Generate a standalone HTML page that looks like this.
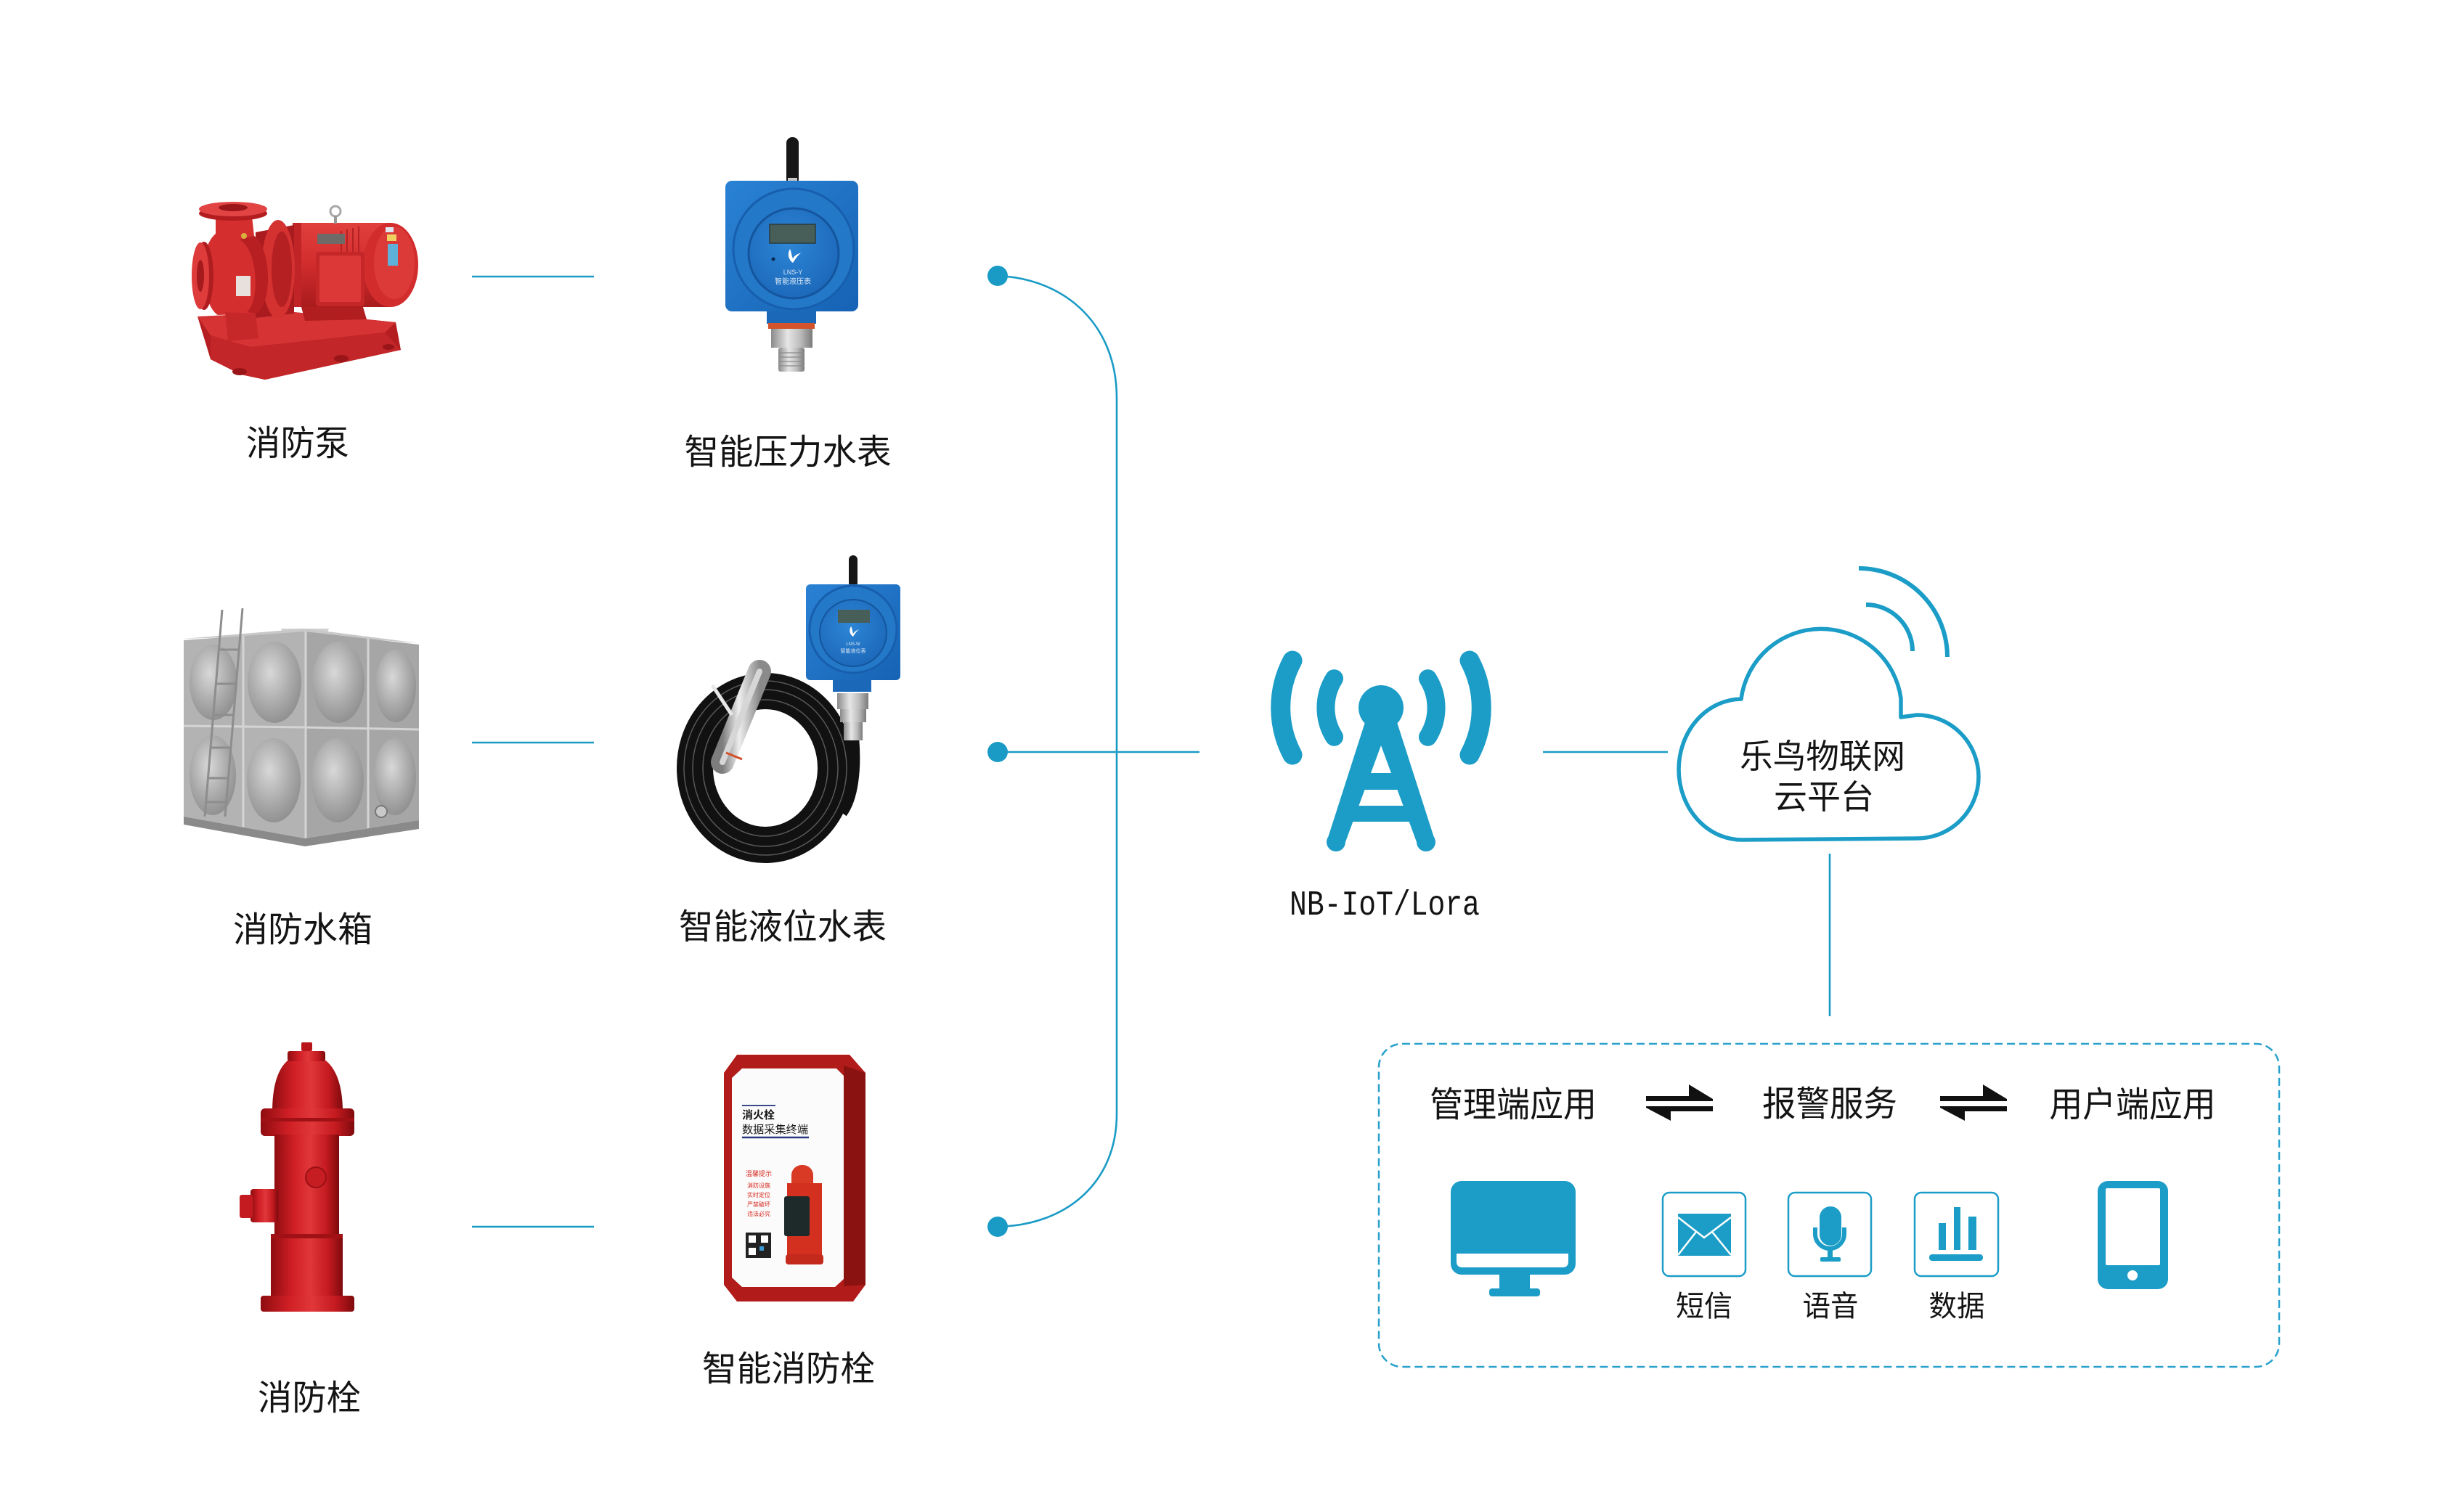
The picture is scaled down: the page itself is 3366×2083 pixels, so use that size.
<!DOCTYPE html>
<html><head><meta charset="utf-8">
<style>
html,body{margin:0;padding:0;background:#fff;}
svg{display:block;}
text{font-family:"Liberation Sans","Noto Sans CJK SC",sans-serif;fill:#141414;}
.mono{font-family:"Liberation Mono","DejaVu Sans Mono",monospace;}
</style></head><body>
<svg width="3366" height="2083" viewBox="0 0 3366 2083" xmlns="http://www.w3.org/2000/svg">
<defs>
 <linearGradient id="red" x1="0" x2="1" y1="0" y2="0">
  <stop offset="0" stop-color="#8e0c10"/><stop offset="0.3" stop-color="#cf1f25"/><stop offset="0.55" stop-color="#e0373a"/><stop offset="0.8" stop-color="#c41a20"/><stop offset="1" stop-color="#7e0a0d"/>
 </linearGradient>
 <linearGradient id="motor" x1="0" x2="0" y1="0" y2="1">
  <stop offset="0" stop-color="#e0403e"/><stop offset="0.45" stop-color="#d42e2e"/><stop offset="1" stop-color="#a91b1d"/>
 </linearGradient>
 <radialGradient id="dimple" cx="0.42" cy="0.38" r="0.7">
  <stop offset="0" stop-color="#d8d8d8"/><stop offset="0.55" stop-color="#ababab"/><stop offset="1" stop-color="#8a8a8a"/>
 </radialGradient>
 <linearGradient id="silver" x1="0" x2="1">
  <stop offset="0" stop-color="#8a8a8a"/><stop offset="0.4" stop-color="#e6e6e6"/><stop offset="0.7" stop-color="#bdbdbd"/><stop offset="1" stop-color="#7a7a7a"/>
 </linearGradient>
 <linearGradient id="blueBox" x1="0" x2="1" y1="0" y2="1">
  <stop offset="0" stop-color="#2a82d4"/><stop offset="1" stop-color="#1662b4"/>
 </linearGradient>
 <radialGradient id="blueFace" cx="0.45" cy="0.4" r="0.7">
  <stop offset="0" stop-color="#2d86d6"/><stop offset="1" stop-color="#1a64b6"/>
 </radialGradient>
 <linearGradient id="probe" x1="0" x2="1" y1="0" y2="0">
  <stop offset="0" stop-color="#7d7d7d"/><stop offset="0.45" stop-color="#eeeeee"/><stop offset="1" stop-color="#8a8a8a"/>
 </linearGradient>
</defs>

<!-- ================= CONNECTORS ================= -->
<g stroke="#1a9bc6" stroke-width="2.6" fill="none">
 <line x1="650" y1="381" x2="818" y2="381"/>
 <line x1="650" y1="1023" x2="818" y2="1023"/>
 <line x1="650" y1="1690" x2="818" y2="1690"/>
 <path d="M1374,380 C1470,384 1538,450 1538,548 L1538,1535 C1538,1628 1470,1688 1374,1690"/>
 <line x1="1374" y1="1036" x2="1652" y2="1036"/>
 <line x1="2125" y1="1036" x2="2297" y2="1036"/>
 <line x1="2520" y1="1176" x2="2520" y2="1400"/>
</g>
<g fill="#1a9bc6">
 <circle cx="1374" cy="380" r="14"/>
 <circle cx="1374" cy="1036" r="14"/>
 <circle cx="1374" cy="1690" r="14"/>
</g>

<!-- ================= PUMP ================= -->
<g>
 <!-- base block -->
 <polygon points="272,436 405,430 545,444 552,482 365,523 332,516 290,495" fill="#b51e21"/>
 <polygon points="272,436 405,430 545,444 530,458 345,478 290,462" fill="#d63434"/>
 <polygon points="290,462 345,478 530,458 552,482 365,523 332,516 290,495" fill="#c22628"/>
 <ellipse cx="330" cy="512" rx="10" ry="5" fill="#9a1518"/>
 <ellipse cx="470" cy="494" rx="10" ry="5" fill="#9a1518"/>
 <ellipse cx="535" cy="478" rx="8" ry="4" fill="#9a1518"/>
 <!-- motor -->
 <rect x="403" y="307" width="136" height="116" fill="url(#motor)"/>
 <g stroke="#b42224" stroke-width="2">
  <line x1="470" y1="318" x2="470" y2="418"/><line x1="478" y1="316" x2="478" y2="420"/><line x1="486" y1="314" x2="486" y2="420"/><line x1="494" y1="312" x2="494" y2="421"/>
 </g>
 <ellipse cx="538" cy="365" rx="38" ry="58" fill="#d22c2d"/>
 <ellipse cx="543" cy="362" rx="28" ry="50" fill="#dc3a39"/>
 <rect x="531" y="313" width="11" height="7" fill="#dfe6f0"/>
 <rect x="533" y="323" width="13" height="9" fill="#f0d060"/>
 <rect x="534" y="336" width="14" height="30" fill="#5fb0d8"/>
 <rect x="403" y="307" width="12" height="116" fill="#c02426"/>
 <polygon points="415,423 500,423 505,440 420,442" fill="#b01e20"/>
 <!-- bracket -->
 <polygon points="352,320 405,310 405,432 352,438" fill="#a91b1e"/>
 <ellipse cx="383" cy="371" rx="23" ry="68" fill="#d43131"/>
 <ellipse cx="388" cy="371" rx="14" ry="52" fill="#b52023"/>
 <!-- volute -->
 <path d="M297,298 L347,298 L350,325 C374,342 376,420 352,432 L300,434 C278,420 270,345 297,322 Z" fill="#d52e2e"/>
 <path d="M330,330 C356,345 358,415 340,430 L352,432 C376,420 374,342 350,325 Z" fill="#b71f22"/>
 <rect x="325" y="380" width="20" height="28" fill="#e8e0dc"/>
 <circle cx="336" cy="325" r="4" fill="#d9b040"/>
 <ellipse cx="321" cy="294" rx="47" ry="10" fill="#b31d20"/>
 <ellipse cx="321" cy="288" rx="47" ry="10" fill="#e24444"/>
 <ellipse cx="321" cy="286" rx="20" ry="5" fill="#9a1618"/>
 <ellipse cx="281" cy="380" rx="13" ry="47" fill="#b01d20"/>
 <ellipse cx="276" cy="380" rx="12" ry="46" fill="#de3b3b"/>
 <ellipse cx="276" cy="380" rx="5" ry="22" fill="#a51a1c"/>
 <polygon points="310,430 352,432 356,466 314,470" fill="#c62729"/>
 <!-- junction box -->
 <rect x="435" y="347" width="67" height="75" rx="4" fill="#c52628"/>
 <rect x="440" y="352" width="57" height="64" rx="3" fill="#dc3838"/>
 <rect x="437" y="322" width="38" height="14" fill="#6e6a68"/>
 <circle cx="462" cy="291" r="7" fill="none" stroke="#a8a8a8" stroke-width="3"/>
 <rect x="460" y="297" width="4" height="11" fill="#999"/>
</g>

<!-- ================= PRESSURE METER ================= -->
<g>
 <rect x="1083" y="189" width="17" height="66" rx="8" fill="#161616"/>
 <rect x="1085" y="245" width="13" height="8" fill="#c8c8c8"/>
 <rect x="999" y="249" width="183" height="180" rx="9" fill="url(#blueBox)"/>
 <circle cx="1093" cy="343" r="83" fill="#2478c8" stroke="#175fae" stroke-width="3"/>
 <circle cx="1093" cy="349" r="62" fill="url(#blueFace)" stroke="#14559e" stroke-width="3"/>
 <rect x="1060" y="309" width="63" height="26" fill="#485e58" stroke="#2a3b3a" stroke-width="1.5"/>
 <path d="M1088,343 C1084,350 1086,358 1092,362 C1096,356 1100,350 1104,348 C1098,350 1094,352 1092,356 C1090,352 1090,347 1088,343 Z" fill="#fff"/>
 <circle cx="1065" cy="357" r="2.5" fill="#0d2850"/>
 <text x="1092" y="378" font-size="9" text-anchor="middle" style="fill:#d8e6f6">LNS-Y</text>
 <text x="1092" y="391" font-size="10" text-anchor="middle" style="fill:#d8e6f6">智能液压表</text>
 <rect x="1056" y="429" width="68" height="17" fill="#1c68b8"/>
 <rect x="1058" y="445" width="64" height="8" fill="#d2532c"/>
 <rect x="1062" y="453" width="57" height="26" fill="url(#silver)"/>
 <rect x="1072" y="479" width="36" height="33" rx="3" fill="url(#silver)"/>
 <g stroke="#8a8a8a" stroke-width="1.2"><line x1="1072" y1="486" x2="1108" y2="486"/><line x1="1072" y1="492" x2="1108" y2="492"/><line x1="1072" y1="498" x2="1108" y2="498"/><line x1="1072" y1="504" x2="1108" y2="504"/></g>
</g>

<!-- ================= TANK ================= -->
<g>
 <polygon points="387,866 453,866 450,874 390,874" fill="#d0d0d0"/>
 <polygon points="253,880 420,866 577,886 420,874" fill="#c8c8c8"/>
 <polygon points="253,882 420,870 420,1155 253,1125" fill="#b3b3b3"/>
 <polygon points="420,870 577,888 577,1130 420,1155" fill="#a6a6a6"/>
 <g stroke="#d4d4d4" stroke-width="3" fill="none">
  <line x1="335" y1="876" x2="335" y2="1140"/>
  <line x1="421" y1="870" x2="421" y2="1155"/>
  <line x1="507" y1="880" x2="507" y2="1143"/>
  <polyline points="253,1000 420,1002 577,1005"/>
 </g>
 <ellipse cx="294" cy="940" rx="33" ry="52" fill="url(#dimple)"/>
 <ellipse cx="378" cy="940" rx="37" ry="56" fill="url(#dimple)"/>
 <ellipse cx="293" cy="1068" rx="32" ry="55" fill="url(#dimple)"/>
 <ellipse cx="377" cy="1075" rx="37" ry="58" fill="url(#dimple)"/>
 <ellipse cx="466" cy="940" rx="36" ry="56" fill="url(#dimple)"/>
 <ellipse cx="545" cy="945" rx="28" ry="50" fill="url(#dimple)"/>
 <ellipse cx="465" cy="1075" rx="36" ry="58" fill="url(#dimple)"/>
 <ellipse cx="544" cy="1070" rx="29" ry="53" fill="url(#dimple)"/>
 <polygon points="253,1125 420,1155 577,1130 577,1142 420,1166 253,1136" fill="#8a8a8a"/>
 <circle cx="525" cy="1118" r="8" fill="#c9c9c9" stroke="#777" stroke-width="2"/>
 <g stroke="#8d8d8d" stroke-width="3">
  <line x1="306" y1="840" x2="282" y2="1125"/>
  <line x1="334" y1="838" x2="310" y2="1125"/>
  <line x1="302" y1="895" x2="330" y2="895"/>
  <line x1="298" y1="942" x2="326" y2="942"/>
  <line x1="294" y1="985" x2="322" y2="985"/>
  <line x1="290" y1="1030" x2="318" y2="1030"/>
  <line x1="287" y1="1072" x2="315" y2="1072"/>
  <line x1="284" y1="1105" x2="312" y2="1105"/>
 </g>
</g>

<!-- ================= LEVEL METER ================= -->
<g>
 <path d="M1176,1015 C1180,1060 1175,1100 1160,1120" stroke="#111" stroke-width="14" fill="none"/>
 <ellipse cx="1054" cy="1058" rx="97" ry="106" fill="none" stroke="#111" stroke-width="50"/>
 <g fill="none" stroke="#6a6a6a" stroke-width="1.5" opacity="0.8">
  <ellipse cx="1054" cy="1058" rx="112" ry="120"/>
  <ellipse cx="1054" cy="1058" rx="100" ry="108"/>
  <ellipse cx="1054" cy="1058" rx="86" ry="94"/>
 </g>
 <line x1="1046" y1="925" x2="995" y2="1050" stroke="url(#probe)" stroke-width="32" stroke-linecap="round"/>
 <line x1="1046" y1="925" x2="995" y2="1050" stroke="#d6d6d6" stroke-width="8" stroke-linecap="round"/>
 <line x1="1000" y1="1037" x2="1022" y2="1046" stroke="#d4502a" stroke-width="3"/>
 <line x1="981" y1="944" x2="1008" y2="985" stroke="#e8e8e8" stroke-width="5"/>
 <rect x="1169" y="765" width="12" height="44" rx="6" fill="#161616"/>
 <rect x="1110" y="805" width="130" height="132" rx="6" fill="url(#blueBox)"/>
 <circle cx="1175" cy="867" r="60" fill="#2478c8" stroke="#175fae" stroke-width="3"/>
 <circle cx="1175" cy="872" r="46" fill="url(#blueFace)" stroke="#14559e" stroke-width="2"/>
 <rect x="1154" y="840" width="44" height="18" fill="#485e58"/>
 <path d="M1172,863 C1169,868 1170,874 1175,877 C1178,872 1181,868 1184,867 C1180,868 1177,870 1175,873 C1174,870 1174,866 1172,863 Z" fill="#fff"/>
 <text x="1175" y="889" font-size="6" text-anchor="middle" style="fill:#d8e6f6">LNS-W</text>
 <text x="1175" y="899" font-size="7" text-anchor="middle" style="fill:#d8e6f6">智能液位表</text>
 <rect x="1147" y="937" width="53" height="16" fill="#1c68b8"/>
 <rect x="1153" y="955" width="43" height="22" fill="url(#silver)"/>
 <rect x="1157" y="977" width="36" height="18" fill="url(#silver)"/>
 <rect x="1162" y="995" width="26" height="25" fill="url(#silver)"/>
</g>

<!-- ================= HYDRANT ================= -->
<g>
 <rect x="415" y="1436" width="15" height="12" rx="2" fill="#b8151b"/>
 <path d="M375,1532 C375,1478 392,1452 422,1452 C452,1452 472,1478 472,1532 Z" fill="url(#red)"/>
 <rect x="396" y="1448" width="52" height="14" rx="3" fill="url(#red)"/>
 <rect x="359" y="1527" width="129" height="38" rx="6" fill="url(#red)"/>
 <rect x="359" y="1540" width="129" height="5" fill="#a01116"/>
 <rect x="378" y="1563" width="89" height="227" fill="url(#red)"/>
 <rect x="373" y="1700" width="99" height="90" rx="4" fill="url(#red)"/>
 <rect x="373" y="1700" width="99" height="6" fill="#a01116"/>
 <rect x="345" y="1638" width="38" height="46" rx="4" fill="url(#red)"/>
 <rect x="330" y="1646" width="18" height="32" rx="3" fill="#c41b21"/>
 <circle cx="435" cy="1622" r="14" fill="#c61d22" stroke="#9a1015" stroke-width="2"/>
 <rect x="359" y="1785" width="129" height="22" rx="4" fill="url(#red)"/>
</g>

<!-- ================= SMART HYDRANT BOX ================= -->
<g>
 <polygon points="1015,1453 1170,1453 1192,1478 1192,1770 1175,1793 1015,1793 997,1770 997,1478" fill="#b11c1b"/>
 <polygon points="1162,1468 1192,1478 1192,1770 1162,1772" fill="#8a1210"/>
 <polygon points="1022,1472 1152,1472 1162,1482 1162,1762 1150,1773 1022,1773 1008,1760 1008,1485" fill="#fbfbfb"/>
 <line x1="1022" y1="1523" x2="1068" y2="1523" stroke="#3a4a8a" stroke-width="2"/>
 <text x="1022" y="1541" font-size="15" font-weight="bold">消火栓</text>
 <text x="1022" y="1561" font-size="15" textLength="91" lengthAdjust="spacingAndGlyphs">数据采集终端</text>
 <line x1="1022" y1="1567" x2="1114" y2="1567" stroke="#2a3a80" stroke-width="2.5"/>
 <text x="1027" y="1620" font-size="9" style="fill:#d6281e">温馨提示</text>
 <text x="1029" y="1636" font-size="8" style="fill:#d6281e">消防设施</text>
 <text x="1029" y="1649" font-size="8" style="fill:#d6281e">实时定位</text>
 <text x="1029" y="1662" font-size="8" style="fill:#d6281e">严禁破坏</text>
 <text x="1029" y="1675" font-size="8" style="fill:#d6281e">违法必究</text>
 <rect x="1027" y="1698" width="35" height="35" fill="#222"/>
 <rect x="1031" y="1702" width="10" height="10" fill="#fff"/><rect x="1048" y="1702" width="10" height="10" fill="#fff"/><rect x="1031" y="1719" width="10" height="10" fill="#fff"/>
 <rect x="1046" y="1717" width="6" height="6" fill="#3a9ad0"/>
 <rect x="1090" y="1605" width="30" height="45" rx="14" fill="#d93a26"/>
 <rect x="1084" y="1630" width="48" height="100" fill="#d4301f"/>
 <rect x="1080" y="1648" width="35" height="55" rx="3" fill="#1e2a2a"/>
 <rect x="1082" y="1728" width="52" height="14" rx="4" fill="#c42a1c"/>
</g>

<!-- ================= ANTENNA ================= -->
<g fill="#1b9dc7">
 <circle cx="1902" cy="975" r="31"/>
 <polygon points="1880,995 1924,995 1977,1160 1951,1160 1902,1027 1853,1160 1827,1160"/>
 <rect x="1862" y="1065" width="80" height="23"/>
 <rect x="1850" y="1110" width="104" height="22"/>
 <circle cx="1840" cy="1160" r="13"/>
 <circle cx="1964" cy="1160" r="13"/>
</g>
<g stroke="#1b9dc7" fill="none" stroke-linecap="round">
 <path d="M1837.5,934.7 A76,76 0 0 0 1837.5,1015.3" stroke-width="25"/>
 <path d="M1966.5,934.7 A76,76 0 0 1 1966.5,1015.3" stroke-width="25"/>
 <path d="M1780,910 A138,138 0 0 0 1780,1040" stroke-width="27"/>
 <path d="M2024,910 A138,138 0 0 1 2024,1040" stroke-width="27"/>
</g>
<text class="mono" x="1776" y="1260" font-size="48" textLength="262" lengthAdjust="spacingAndGlyphs">NB-IoT/Lora</text>

<!-- ================= CLOUD ================= -->
<g stroke="#1b9dc7" fill="none">
 <path d="M2400,1157 A87,97 0 0 1 2398,963 A111,111 0 0 1 2618,962 L2618,988 L2640,985 A85,85 0 0 1 2640,1155 Z" stroke-width="5.5" stroke-linejoin="round"/>
 <path d="M2570,833 A64,64 0 0 1 2634,897" stroke-width="6"/>
 <path d="M2560,783 A122,122 0 0 1 2682,905" stroke-width="6"/>
</g>
<text x="2510" y="1058" font-size="46" text-anchor="middle" textLength="228" lengthAdjust="spacingAndGlyphs">乐鸟物联网</text>
<text x="2512" y="1114" font-size="46" text-anchor="middle" textLength="138" lengthAdjust="spacingAndGlyphs">云平台</text>

<!-- ================= APPLICATION BOX ================= -->
<rect x="1899" y="1438" width="1240" height="445" rx="32" fill="none" stroke="#2aa0cc" stroke-width="2.5" stroke-dasharray="11 6"/>

<text x="2084" y="1538" font-size="48" text-anchor="middle" textLength="230" lengthAdjust="spacingAndGlyphs">管理端应用</text>
<text x="2520" y="1537" font-size="48" text-anchor="middle" textLength="186" lengthAdjust="spacingAndGlyphs">报警服务</text>
<text x="2937" y="1538" font-size="48" text-anchor="middle" textLength="229" lengthAdjust="spacingAndGlyphs">用户端应用</text>

<g fill="#111">
 <polygon points="2267,1510 2326,1510 2326,1494 2359,1514 2359,1517 2267,1517"/>
 <polygon points="2267,1524 2359,1524 2359,1531 2301,1531 2301,1544 2267,1526"/>
 <polygon points="2672,1510 2731,1510 2731,1494 2764,1514 2764,1517 2672,1517"/>
 <polygon points="2672,1524 2764,1524 2764,1531 2706,1531 2706,1544 2672,1526"/>
</g>

<!-- monitor -->
<g fill="#1b9dc7">
 <rect x="1998" y="1627" width="172" height="129" rx="15"/>
 <rect x="2065" y="1754" width="42" height="24"/>
 <rect x="2051" y="1775" width="70" height="11" rx="4"/>
</g>
<path d="M2006,1727 L2160,1727 L2160,1738 Q2160,1746 2152,1746 L2014,1746 Q2006,1746 2006,1738 Z" fill="#fff"/>

<!-- sms -->
<rect x="2290" y="1643" width="114" height="115" rx="9" fill="#fff" stroke="#1b9dc7" stroke-width="2.5"/>
<rect x="2311" y="1672" width="73" height="58" fill="#1b9dc7"/>
<g stroke="#fff" stroke-width="2.5" fill="none">
 <polyline points="2311,1677 2347,1705 2384,1677"/>
 <line x1="2311" y1="1729" x2="2336" y2="1697"/>
 <line x1="2384" y1="1729" x2="2358" y2="1697"/>
</g>

<!-- mic -->
<rect x="2463" y="1643" width="114" height="115" rx="9" fill="#fff" stroke="#1b9dc7" stroke-width="2.5"/>
<rect x="2506" y="1662" width="30" height="54" rx="15" fill="#1b9dc7"/>
<path d="M2500,1691 L2500,1700 A20,20 0 0 0 2540,1700 L2540,1691" stroke="#1b9dc7" stroke-width="6" fill="none"/>
<rect x="2517" y="1719" width="7" height="14" fill="#1b9dc7"/>
<rect x="2507" y="1732" width="28" height="6" rx="2" fill="#1b9dc7"/>

<!-- data -->
<rect x="2637" y="1643" width="115" height="115" rx="9" fill="#fff" stroke="#1b9dc7" stroke-width="2.5"/>
<g fill="#1b9dc7">
 <rect x="2670" y="1685" width="10" height="37"/>
 <rect x="2691" y="1663" width="9" height="59"/>
 <rect x="2711" y="1676" width="11" height="46"/>
 <rect x="2657" y="1728" width="74" height="9" rx="4"/>
</g>

<text x="2347" y="1813" font-size="40" text-anchor="middle" textLength="78" lengthAdjust="spacingAndGlyphs">短信</text>
<text x="2521" y="1813" font-size="40" text-anchor="middle" textLength="77" lengthAdjust="spacingAndGlyphs">语音</text>
<text x="2695" y="1813" font-size="40" text-anchor="middle" textLength="77" lengthAdjust="spacingAndGlyphs">数据</text>

<!-- phone -->
<rect x="2889" y="1627" width="97" height="149" rx="14" fill="#1b9dc7"/>
<rect x="2900" y="1637" width="75" height="106" rx="2" fill="#fff"/>
<circle cx="2937" cy="1757" r="7" fill="#fff"/>

<!-- ================= LEFT LABELS ================= -->
<text x="410" y="627" font-size="48" text-anchor="middle" textLength="142" lengthAdjust="spacingAndGlyphs">消防泵</text>
<text x="1085" y="639" font-size="48" text-anchor="middle" textLength="285" lengthAdjust="spacingAndGlyphs">智能压力水表</text>
<text x="417" y="1297" font-size="48" text-anchor="middle" textLength="192" lengthAdjust="spacingAndGlyphs">消防水箱</text>
<text x="1078" y="1293" font-size="48" text-anchor="middle" textLength="286" lengthAdjust="spacingAndGlyphs">智能液位水表</text>
<text x="426" y="1942" font-size="48" text-anchor="middle" textLength="142" lengthAdjust="spacingAndGlyphs">消防栓</text>
<text x="1086" y="1902" font-size="48" text-anchor="middle" textLength="238" lengthAdjust="spacingAndGlyphs">智能消防栓</text>
</svg>
</body></html>
